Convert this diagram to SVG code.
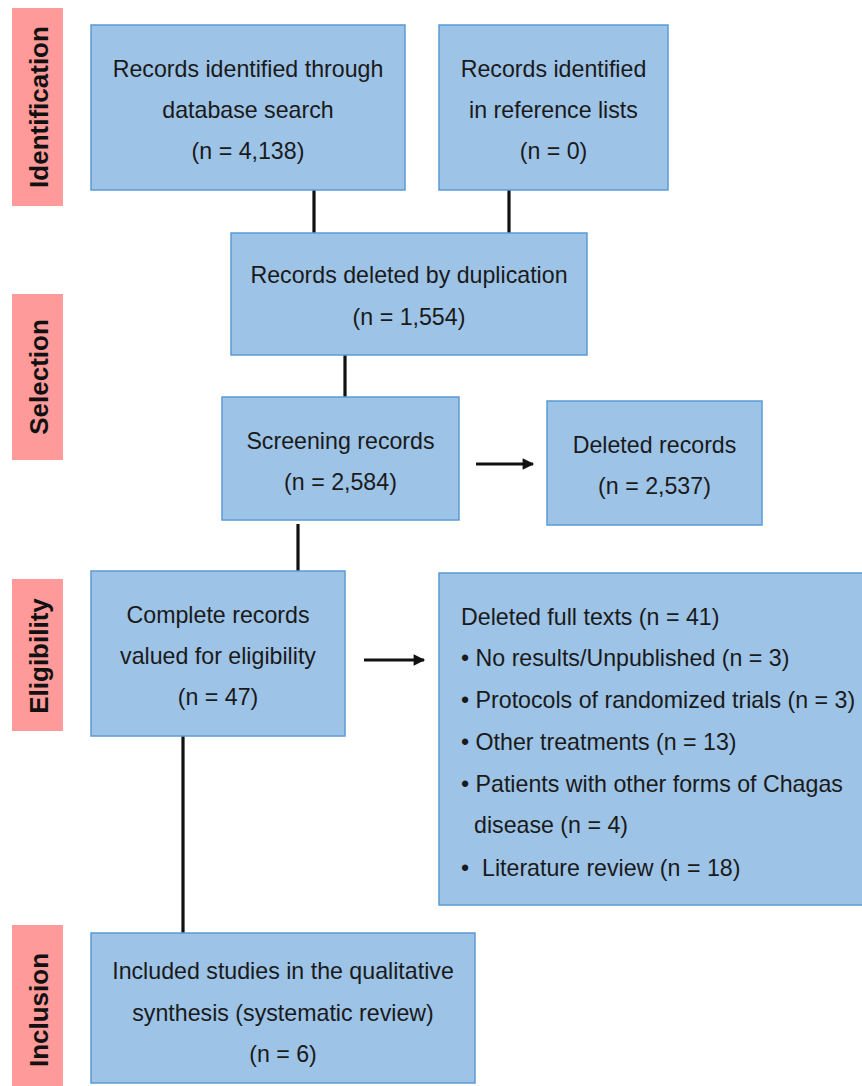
<svg xmlns="http://www.w3.org/2000/svg" width="862" height="1086" viewBox="0 0 862 1086">
<style>
.box{fill:#9dc3e6;stroke:#5b9bd5;stroke-width:1.5}
.phase{fill:#ff9a9a}
.t{font-family:"Liberation Sans",Arial,sans-serif;font-size:23.2px;fill:#1a1a1a}
.c{text-anchor:middle}
.ph{font-family:"Liberation Sans",Arial,sans-serif;font-size:26px;font-weight:bold;fill:#111;text-anchor:middle}
.ln{stroke:#111;stroke-width:3.2;fill:none}
</style>
<defs>
<marker id="ah" viewBox="0 0 10 10" refX="9" refY="5" markerWidth="4" markerHeight="3.6" orient="auto" markerUnits="strokeWidth">
<path d="M0,0 L10,5 L0,10 z" fill="#111"/>
</marker>
</defs>
<rect width="862" height="1086" fill="#fff"/>

<g id="phase-identification"><rect class="phase" x="12" y="8" width="51" height="198"/><text class="ph" transform="translate(48,107) rotate(-90)">Identification</text></g>
<g id="phase-selection"><rect class="phase" x="12" y="294" width="51" height="166"/><text class="ph" transform="translate(48,377) rotate(-90)">Selection</text></g>
<g id="phase-eligibility"><rect class="phase" x="12" y="579" width="51" height="152"/><text class="ph" transform="translate(48,656) rotate(-90)">Eligibility</text></g>
<g id="phase-inclusion"><rect class="phase" x="12" y="925" width="51" height="161"/><text class="ph" transform="translate(48,1010) rotate(-90)">Inclusion</text></g>

<g id="connectors">
<line class="ln" x1="314" y1="190" x2="314" y2="233"/>
<line class="ln" x1="509" y1="190" x2="509" y2="233"/>
<line class="ln" x1="345" y1="355" x2="345" y2="397"/>
<line class="ln" x1="298" y1="524" x2="298" y2="571"/>
<line class="ln" x1="183" y1="736" x2="183" y2="933"/>
<line class="ln" x1="476" y1="464" x2="533" y2="464" marker-end="url(#ah)"/>
<line class="ln" x1="364" y1="660" x2="424" y2="660" marker-end="url(#ah)"/>
</g>

<g id="n1"><rect class="box" x="91" y="25" width="314" height="165"/>
<text class="t c" x="248" y="77">Records identified through</text>
<text class="t c" x="248" y="118">database search</text>
<text class="t c" x="248" y="159">(n = 4,138)</text></g>

<g id="n2"><rect class="box" x="439" y="25" width="229" height="165"/>
<text class="t c" x="553.5" y="77">Records identified</text>
<text class="t c" x="553.5" y="118">in reference lists</text>
<text class="t c" x="553.5" y="159">(n = 0)</text></g>

<g id="n3"><rect class="box" x="231" y="233" width="356" height="122"/>
<text class="t c" x="409" y="283">Records deleted by duplication</text>
<text class="t c" x="409" y="325">(n = 1,554)</text></g>

<g id="n4"><rect class="box" x="222" y="397" width="237" height="123"/>
<text class="t c" x="340.5" y="449">Screening records</text>
<text class="t c" x="340.5" y="490">(n = 2,584)</text></g>

<g id="n5"><rect class="box" x="547" y="401" width="215" height="124"/>
<text class="t c" x="654.5" y="453">Deleted records</text>
<text class="t c" x="654.5" y="494">(n = 2,537)</text></g>

<g id="n6"><rect class="box" x="91" y="571" width="254" height="165"/>
<text class="t c" x="218" y="623">Complete records</text>
<text class="t c" x="218" y="664">valued for eligibility</text>
<text class="t c" x="218" y="705">(n = 47)</text></g>

<g id="n7"><rect class="box" x="439" y="573" width="430" height="332"/>
<text class="t" x="461" y="625">Deleted full texts (n = 41)</text>
<text class="t" x="461" y="666">• No results/Unpublished (n = 3)</text>
<text class="t" x="461" y="708">• Protocols of randomized trials (n = 3)</text>
<text class="t" x="461" y="750">• Other treatments (n = 13)</text>
<text class="t" x="461" y="792">• Patients with other forms of Chagas</text>
<text class="t" x="474" y="833">disease (n = 4)</text>
<text class="t" x="461" y="876" xml:space="preserve" style="white-space:pre">•  Literature review (n = 18)</text></g>

<g id="n8"><rect class="box" x="91" y="933" width="384" height="150"/>
<text class="t c" x="283" y="979">Included studies in the qualitative</text>
<text class="t c" x="283" y="1021">synthesis (systematic review)</text>
<text class="t c" x="283" y="1062">(n = 6)</text></g>
</svg>
